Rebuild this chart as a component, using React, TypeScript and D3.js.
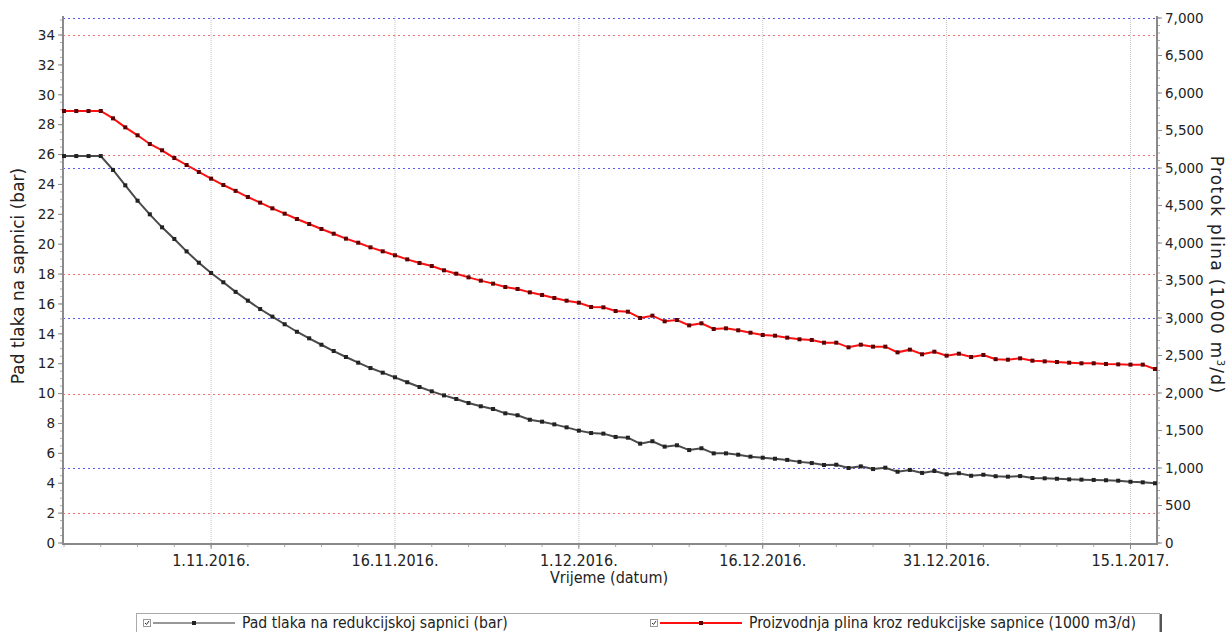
import React from "react";
import * as d3 from "d3";

const startDate = "2016-10-20";
const pressureValues = [
  25.9, 25.9, 25.9, 25.9, 24.97, 23.94, 22.91, 22.0, 21.13, 20.35,
  19.52, 18.76, 18.07, 17.45, 16.81, 16.22, 15.66, 15.15, 14.64, 14.14,
  13.7, 13.27, 12.85, 12.45, 12.07, 11.71, 11.4, 11.09, 10.76, 10.44,
  10.15, 9.88, 9.64, 9.37, 9.15, 8.97, 8.68, 8.55, 8.25, 8.12,
  7.94, 7.74, 7.52, 7.36, 7.32, 7.1, 7.05, 6.65, 6.81, 6.45,
  6.54, 6.22, 6.34, 6.0, 6.0, 5.91, 5.78, 5.71, 5.64, 5.56,
  5.43, 5.35, 5.22, 5.24, 5.02, 5.13, 4.95, 5.04, 4.77, 4.89,
  4.69, 4.82, 4.6, 4.67, 4.5, 4.57, 4.47, 4.44, 4.48, 4.35,
  4.33, 4.3, 4.26, 4.24, 4.22, 4.2, 4.17, 4.1, 4.06, 4.0,
];
const flowValues = [
  5760, 5760, 5760, 5760, 5662, 5542, 5436, 5320, 5236, 5133,
  5040, 4947, 4858, 4773, 4695, 4613, 4538, 4462, 4391, 4320,
  4253, 4187, 4124, 4058, 4004, 3942, 3889, 3836, 3782, 3733,
  3693, 3636, 3591, 3542, 3498, 3458, 3413, 3387, 3342, 3307,
  3267, 3231, 3204, 3147, 3142, 3093, 3084, 3000, 3031, 2956,
  2973, 2902, 2929, 2853, 2862, 2836, 2804, 2773, 2764, 2738,
  2716, 2707, 2671, 2671, 2609, 2644, 2618, 2618, 2542, 2578,
  2516, 2551, 2498, 2524, 2480, 2507, 2451, 2444, 2462, 2431,
  2422, 2413, 2404, 2396, 2396, 2387, 2382, 2378, 2378, 2320,
];
const dateTicks = ["2016-11-01", "2016-11-16", "2016-12-01", "2016-12-16", "2016-12-31", "2017-01-15"];
const dateTickLabels = ["1.11.2016.", "16.11.2016.", "1.12.2016.", "16.12.2016.", "31.12.2016.", "15.1.2017."];
const leftTicks = [0, 2, 4, 6, 8, 10, 12, 14, 16, 18, 20, 22, 24, 26, 28, 30, 32, 34];
const leftGrid = [2, 10, 18, 26, 34];
const rightTicks = [0, 500, 1000, 1500, 2000, 2500, 3000, 3500, 4000, 4500, 5000, 5500, 6000, 6500, 7000];
const rightGrid = [1000, 3000, 5000, 7000];
const seriesNames = ["Pad tlaka na redukcijskoj sapnici (bar)", "Proizvodnja plina kroz redukcijske sapnice (1000 m3/d)"];

const W = 1228, H = 632;
const L = 63, R = 1157, T = 16, B = 544;
const dayMs = 86400000;

export default function App() {
  const t0 = new Date(startDate + "T00:00:00Z");
  const dates = pressureValues.map((_, i) => new Date(t0.getTime() + i * dayMs));
  const x = d3.scaleUtc().domain([t0, dates[dates.length - 1]]).range([64, 1155]);
  const yL = d3.scaleLinear().domain([0, 35.14]).range([543, 18]);
  const yR = d3.scaleLinear().domain([0, 7000]).range([543, 18]);
  const ticksDates = dateTicks.map((s) => new Date(s + "T00:00:00Z"));

  const lineP = d3.line<number>().x((_, i) => x(dates[i])).y((v) => yL(v));
  const lineF = d3.line<number>().x((_, i) => x(dates[i])).y((v) => yR(v));

  const leftMinor = d3.range(0, 35.01, 0.5);
  const rightMinor = d3.range(0, 7001, 100);
  const xMinor = d3.utcDay.range(t0, new Date(t0.getTime() + 90 * dayMs), 1).filter((d, i) => i % 3 === 0);

  const tickFont = "'DejaVu Sans', Verdana, sans-serif";
  const narrowFont = "'Liberation Sans Narrow', 'DejaVu Sans Condensed', 'Liberation Sans', sans-serif";
  const textCol = "#222";

  return (
    <svg width={W} height={H} style={{ position: "absolute", left: 0, top: 0, background: "#fff" }}>
      {ticksDates.map((d, i) => (
        <line key={"vg" + i} x1={x(d)} x2={x(d)} y1={T} y2={B} stroke="#c4c4c4" strokeWidth={1} strokeDasharray="1,1" />
      ))}
      {leftGrid.map((v) => (
        <line key={"lg" + v} x1={L} x2={R} y1={Math.round(yL(v)) + 0.5} y2={Math.round(yL(v)) + 0.5} stroke="#f07070" strokeWidth={1} strokeDasharray="2,3" />
      ))}
      {rightGrid.map((v) => (
        <line key={"rg" + v} x1={L} x2={R} y1={Math.round(yR(v)) + 0.5} y2={Math.round(yR(v)) + 0.5} stroke="#5a5af0" strokeWidth={1} strokeDasharray="2,3" />
      ))}

      <line x1={L} x2={L} y1={T} y2={B + 1} stroke="#8a8a8a" strokeWidth={2} />
      <line x1={R} x2={R} y1={T} y2={B + 1} stroke="#8a8a8a" strokeWidth={2} />
      <line x1={L} x2={R} y1={B} y2={B} stroke="#8a8a8a" strokeWidth={2} />

      {leftMinor.map((v) => (
        <line key={"lm" + v} x1={L - 3} x2={L - 1} y1={yL(v)} y2={yL(v)} stroke="#aaa" strokeWidth={1} />
      ))}
      {leftTicks.map((v) => (
        <g key={"lt" + v}>
          <line x1={L - 5} x2={L - 1} y1={yL(v)} y2={yL(v)} stroke="#888" strokeWidth={1} />
          <text x={L - 8} y={yL(v)} dy="0.35em" textAnchor="end" fontFamily={tickFont} fontSize={13.5} fill={textCol}>{v}</text>
        </g>
      ))}
      {rightMinor.map((v) => (
        <line key={"rm" + v} x1={R + 1} x2={R + 3} y1={yR(v)} y2={yR(v)} stroke="#aaa" strokeWidth={1} />
      ))}
      {rightTicks.map((v) => (
        <g key={"rt" + v}>
          <line x1={R + 1} x2={R + 5} y1={yR(v)} y2={yR(v)} stroke="#888" strokeWidth={1} />
          <text x={R + 8} y={yR(v)} dy="0.35em" textAnchor="start" fontFamily={tickFont} fontSize={13.5} fill={textCol}>{d3.format(",")(v)}</text>
        </g>
      ))}
      {xMinor.map((d, i) => (
        <line key={"xm" + i} x1={x(d)} x2={x(d)} y1={B + 1} y2={B + 3} stroke="#aaa" strokeWidth={1} />
      ))}
      {ticksDates.map((d, i) => (
        <g key={"xt" + i}>
          <line x1={x(d)} x2={x(d)} y1={B + 1} y2={B + 5} stroke="#888" strokeWidth={1} />
          <text x={x(d)} y={566} textAnchor="middle" fontFamily={narrowFont} fontSize={16} fill={textCol}>{dateTickLabels[i]}</text>
        </g>
      ))}

      <text transform={`translate(24,276) rotate(-90)`} textAnchor="middle" fontFamily={tickFont} fontSize={17} fill={textCol}>Pad tlaka na sapnici (bar)</text>
      <text transform={`translate(1211,275) rotate(90)`} textAnchor="middle" fontFamily={tickFont} fontSize={17} letterSpacing={1.3} fill={textCol}>
        Protok plina (1000 m<tspan dy="-6" fontSize={10}>3</tspan><tspan dy="6">/d)</tspan>
      </text>
      <text x={609} y={583} textAnchor="middle" fontFamily={narrowFont} fontSize={16} fill={textCol}>Vrijeme (datum)</text>

      <path d={lineP(pressureValues) || ""} fill="none" stroke="#4a4a4a" strokeWidth={2} />
      {pressureValues.map((v, i) => (
        <rect key={"pm" + i} x={x(dates[i]) - 2} y={yL(v) - 2} width={4} height={4} fill="#222" />
      ))}
      <path d={lineF(flowValues) || ""} fill="none" stroke="#ff1010" strokeWidth={2} />
      {flowValues.map((v, i) => (
        <rect key={"fm" + i} x={x(dates[i]) - 2} y={yR(v) - 2} width={4} height={4} fill="#5a0000" />
      ))}

      <rect x={136.5} y={613.5} width={1023} height={30} fill="#fff" stroke="#aaa" strokeWidth={1} />
      <line x1={1161} x2={1161} y1={614} y2={632} stroke="#555" strokeWidth={2} />
      {[0, 1].map((k) => {
        const bx = k === 0 ? 143 : 650;
        const col = k === 0 ? "#333" : "#ff1010";
        const mcol = k === 0 ? "#222" : "#5a0000";
        return (
          <g key={"lg" + k}>
            <rect x={bx + 0.5} y={619.5} width={7} height={7} fill="#fff" stroke="#999" />
            <path d={`M${bx + 2},${623} L${bx + 3.5},${624.5} L${bx + 6},${621}`} fill="none" stroke="#333" strokeWidth={1} />
            <line x1={bx + 10} x2={bx + 92} y1={623} y2={623} stroke={col} strokeWidth={k === 0 ? 1.2 : 2} />
            <rect x={bx + 49} y={621} width={4} height={4} fill={mcol} />
            <text x={bx + 99} y={623} dy="0.35em" fontFamily={narrowFont} fontSize={15.6} fill={textCol}>{seriesNames[k]}</text>
          </g>
        );
      })}
    </svg>
  );
}
